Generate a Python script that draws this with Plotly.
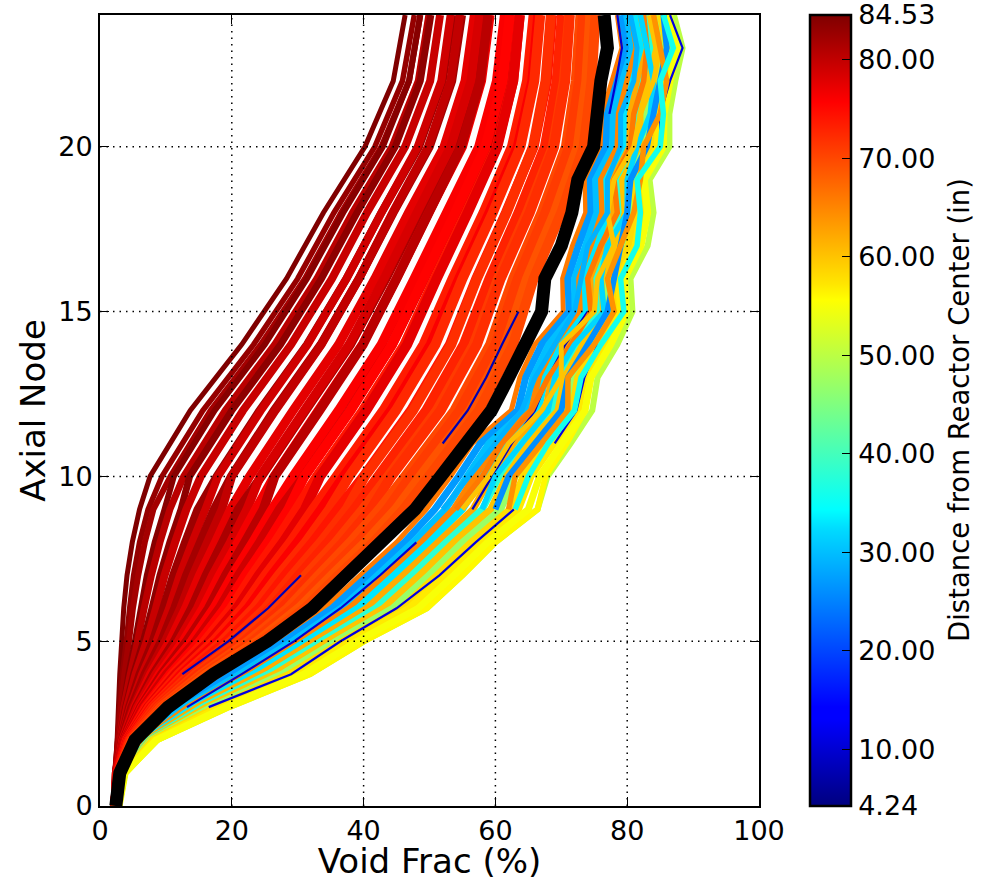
import plotly.graph_objects as go

FONT = "DejaVu Sans"
CMIN, CMAX = 4.24, 84.53
COLORBAR_TICKS = [4.24, 10, 20, 30, 40, 50, 60, 70, 80, 84.53]
COLORBAR_TEXT = ["4.24", "10.00", "20.00", "30.00", "40.00", "50.00", "60.00", "70.00", "80.00", "84.53"]
X_TICKS = [0, 20, 40, 60, 80, 100]
Y_TICKS = [0, 5, 10, 15, 20]
X_GRID = [20, 40, 60, 80]
Y_GRID = [5, 10, 15, 20]

NODES_COARSE = [0, 1, 2, 3, 4, 5, 6, 7, 8, 9, 10, 12, 14, 16, 18, 20, 22, 24]
NODES_FULL = list(range(25))

# Assemblies far from centre: void fraction at NODES_COARSE
core_edge_voids = [
    [2.2,2.3,2.6,2.8,3.0,3.3,3.6,4.1,4.9,6.0,7.6,13.7,21.5,28.3,33.9,40.2,44.5,46.3],
    [2.2,2.3,2.7,3.0,3.4,4.0,4.5,5.1,6.0,7.3,9.4,15.6,23.3,30.0,35.5,41.7,45.9,47.7],
    [2.2,2.3,2.7,3.2,3.7,4.4,5.0,5.8,6.8,8.1,10.7,16.8,24.4,31.1,36.6,42.7,46.9,48.6],
    [2.2,2.4,2.8,3.5,4.3,5.3,6.2,7.1,8.3,9.8,11.2,17.4,25.0,31.4,36.9,42.9,46.9,48.6],
    [2.2,2.4,2.9,3.6,4.6,5.7,6.7,7.8,9.1,10.6,12.7,19.0,26.5,32.9,38.3,44.3,48.3,49.9],
    [2.2,2.4,3.0,3.9,5.1,6.6,7.9,9.1,10.6,12.3,13.6,20.0,27.4,33.6,39.0,44.8,48.6,50.2],
    [2.2,2.4,3.1,4.1,5.4,7.1,8.5,9.8,11.4,13.1,15.3,21.7,29.0,35.2,40.5,46.3,50.1,51.6],
    [2.2,2.4,3.2,4.4,6.0,8.0,9.6,11.1,12.9,14.8,17.7,24.2,31.4,37.4,42.7,48.4,52.0,53.5],
    [2.3,2.5,3.2,4.6,6.4,8.6,10.5,12.1,14.0,16.0,17.9,24.4,31.5,37.4,42.7,48.2,51.8,53.2],
    [2.3,2.5,3.3,4.8,6.8,9.3,11.3,13.1,15.2,17.3,19.9,26.4,33.5,39.3,44.5,50.0,53.4,54.9],
    [2.3,2.5,3.4,5.1,7.3,9.9,12.2,14.1,16.3,18.5,20.0,26.6,33.6,39.3,44.4,49.8,53.2,54.6],
    [2.3,2.5,3.5,5.3,7.7,10.6,13.0,15.1,17.5,19.8,22.7,29.3,36.2,41.7,46.8,52.2,55.4,56.8],
    [2.3,2.6,3.6,5.5,8.1,11.3,13.9,16.1,18.6,21.0,24.5,31.2,38.0,43.4,48.5,53.7,56.8,58.2],
    [2.3,2.6,3.7,5.7,8.5,11.9,14.8,17.1,19.8,22.3,24.3,31.0,37.8,43.1,48.1,53.2,56.3,57.6],
    [2.3,2.6,3.7,6.0,9.0,12.6,15.6,18.1,20.9,23.6,26.4,33.1,39.8,45.0,49.9,55.0,57.9,59.2],
    [2.3,2.6,3.8,6.2,9.4,13.2,16.5,19.1,22.0,24.8,26.5,33.3,39.9,45.0,49.9,54.8,57.7,58.9],
    [2.3,2.6,3.9,6.4,9.8,13.9,17.3,20.1,23.2,26.1,29.3,36.2,42.7,47.7,52.6,57.5,60.2,61.4],
    [2.3,2.7,4.0,6.6,10.2,14.6,18.2,21.1,24.3,27.3,31.0,37.9,44.3,49.2,54.0,58.8,61.5,62.6],
    [2.3,2.7,4.1,6.9,10.7,15.2,19.0,22.1,25.5,28.6,31.0,38.0,44.3,49.1,53.9,58.5,61.1,62.2],
    [2.3,2.7,4.1,7.1,11.1,15.9,19.9,23.1,26.6,29.8,32.9,39.9,46.2,50.8,55.6,60.2,62.7,63.7],
    [2.3,2.7,4.2,7.3,11.5,16.6,20.8,24.1,27.8,31.1,33.4,40.4,46.6,51.1,55.8,60.3,62.7,63.7],
    [2.3,2.7,4.3,7.5,11.9,17.2,21.6,25.1,28.9,32.3,35.9,43.0,49.1,53.5,58.2,62.5,64.8,65.8],
    [2.3,2.8,4.4,7.8,12.4,17.9,22.5,26.1,30.0,33.6,37.0,44.2,50.2,54.5,59.1,63.4,65.6,66.5],
    [2.3,2.8,4.5,8.0,12.8,18.5,23.3,27.1,31.2,34.8,37.8,44.9,50.9,55.0,59.6,63.8,65.9,66.8],
    [2.3,2.8,4.5,8.2,13.2,19.2,24.2,28.1,32.3,36.1,40.0,47.2,53.1,57.1,61.6,65.8,67.8,68.6],
    [2.4,2.8,4.6,8.4,13.7,19.9,25.1,29.2,33.5,37.4,40.2,47.5,53.3,57.2,61.7,65.7,67.6,68.4],
    [2.4,2.8,4.7,8.7,14.1,20.5,25.9,30.2,34.6,38.6,42.2,49.5,55.2,59.1,63.5,67.5,69.3,70.1],
    [2.4,2.9,4.8,8.9,14.5,21.2,26.8,31.2,35.8,39.9,43.7,51.1,56.7,60.4,64.8,68.7,70.4,71.2],
    [2.4,2.9,4.9,9.1,14.9,21.9,27.6,32.2,36.9,41.1,44.2,51.7,57.2,60.8,65.2,68.9,70.6,71.3],
    [2.4,2.9,4.9,9.3,15.4,22.5,28.5,33.2,38.0,42.4,46.3,53.8,59.2,62.7,67.0,70.7,72.2,72.9],
    [2.4,2.9,5.0,9.6,15.8,23.2,29.3,34.2,39.2,43.6,47.1,54.6,60.0,63.4,67.6,71.2,72.7,73.3],
    [2.4,3.0,5.1,9.8,16.2,23.9,30.2,35.2,40.3,44.9,48.6,56.2,61.5,64.8,69.0,72.5,73.8,74.4],
    [2.4,3.0,5.2,10.0,16.6,24.5,31.1,36.2,41.5,46.1,49.9,57.5,62.7,65.8,70.0,73.4,74.6,75.2],
]
core_edge_dist = [84.5,83.0,82.0,84.0,80.5,83.5,79.5,82.5,79.0,82.0,80.0,77.5,81.5,78.5,76.5,80.5,76.0,
                  79.0,75.5,74.0,77.5,73.5,76.0,72.5,74.0,72.0,73.0,71.0,72.0,70.0,71.0,69.0,70.0]
core_edge_width = [5,5.5,6,6,7,7,8,8,8,8.5,8.5,9,9,9,9,9.5,9.5,
                   10,10,10,10,10,10,10,10,10,10,10,10,10,10,10,10]

# Assemblies closer to centre: void fraction at NODES_FULL
core_mid_voids = [
    [2.9,3.8,8.7,19.6,31.9,40.1,49.6,55.0,60.0,66.4,67.9,71.4,74.7,75.5,78.5,80.8,80.5,83.1,84.0,83.4,86.4,86.4,87.3,88.4,87.1],
    [2.9,3.8,8.7,19.6,31.9,40.1,49.6,55.0,60.0,66.4,67.6,70.8,73.6,74.5,77.0,79.5,79.0,81.5,82.5,82.0,85.0,85.0,85.5,86.5,85.5],
    [2.5,3.2,6.0,11.5,19.0,27.0,34.0,39.5,45.0,49.5,53.2,56.5,62.4,63.7,66.0,70.3,70.2,71.7,73.7,73.6,76.0,76.2,77.7,79.2,78.5],
    [2.5,3.2,6.2,12.2,20.0,28.0,35.2,40.7,46.2,50.8,54.4,57.7,63.4,64.6,67.0,71.2,71.0,72.6,74.5,74.4,76.8,77.0,78.5,79.9,79.2],
    [2.6,3.3,6.5,12.9,21.2,29.2,36.6,42.1,47.5,52.4,55.7,59.0,64.5,65.7,68.1,72.1,72.0,73.7,75.4,75.2,77.8,77.9,79.3,80.8,79.9],
    [2.6,3.4,6.7,13.5,22.2,30.3,37.9,43.4,48.8,53.7,56.9,60.2,65.5,66.7,69.2,72.9,72.8,74.6,76.3,76.1,78.6,78.8,80.1,81.5,80.7],
    [2.6,3.4,6.9,14.2,23.3,31.3,39.1,44.6,50.0,55.0,58.1,61.4,66.5,67.6,70.1,73.8,73.6,75.5,77.1,76.9,79.4,79.6,80.9,82.2,81.3],
    [2.7,3.5,7.1,14.9,24.4,32.5,40.5,46.0,51.3,56.6,59.4,62.8,67.6,68.6,71.2,74.7,74.5,76.5,78.0,77.8,80.4,80.5,81.7,83.1,82.1],
    [2.7,3.5,7.4,15.6,25.5,33.6,41.8,47.3,52.5,58.0,60.6,64.0,68.6,69.6,72.3,75.6,75.4,77.4,78.9,78.5,81.2,81.3,82.5,83.8,82.8],
    [2.7,3.6,7.6,16.2,26.5,34.6,43.0,48.5,53.7,59.3,61.7,65.1,69.5,70.5,73.3,76.4,76.2,78.3,79.7,79.3,82.0,82.1,83.3,84.5,83.5],
    [2.8,3.6,7.8,16.9,27.6,35.8,44.4,49.9,55.0,60.8,63.0,66.5,70.6,71.6,74.4,77.3,77.1,79.3,80.6,80.2,83.0,83.0,84.1,85.4,84.3],
    [2.8,3.7,8.0,17.6,28.7,36.8,45.7,51.1,56.3,62.2,64.2,67.7,71.6,72.5,75.4,78.2,77.9,80.2,81.4,81.0,83.8,83.9,84.9,86.1,85.0],
    [2.8,3.7,8.2,18.2,29.7,37.9,46.9,52.4,57.5,63.5,65.4,68.9,72.6,73.5,76.4,79.0,78.7,81.2,82.2,81.7,84.6,84.7,85.7,86.8,85.6],
    [2.9,3.8,8.5,19.0,30.9,39.0,48.3,53.7,58.8,65.0,66.7,70.1,73.6,74.5,77.5,79.9,79.6,82.1,83.1,82.6,85.5,85.6,86.5,87.6,86.3],
]
core_mid_dist = [50.0, 56.0, 66.0, 27.0, 30.0, 65.0, 33.0, 62.0, 38.0, 60.0, 47.0, 58.0, 57.0, 55.0]
core_mid_width = [6, 6, 5, 7, 7, 7, 7, 7, 7, 7, 7, 7, 7, 7]

# Short crossing curves in the upper part, nodes 9 to 24
NODES_UPPER = list(range(9, 25))
crossing_voids = [
    [54,58,61,65.5,68,71.5,74.5,74,76,78.5,78,80.5,81,82.5,83,82.5],
    [58,60,64,68,69,72,76.5,76,77,80,80,81.5,83.5,84,83,82],
    [55,59,62,67,70,70,75,75.5,78,77,78,81,82,84,85,84],
    [60,62,66,70,71,74,77,78,79,80,80.5,83,84,85,86,85.5],
    [62,63,67,71,71,75,78,77,79,81,82,82.5,85,86,85,84],
    [63,65,68,72,73,76,79.5,79,81.5,82,81.5,85,85.5,85,87,85.5],
    [52,56,60,64,66,69,72,73,74,77,77,79,79,81,81.5,80.5],
]
crossing_dist = [66.0, 32.0, 60.0, 26.0, 64.0, 36.0, 29.0]
crossing_width = [5.5, 5.5, 5, 6, 5.5, 5.5, 5]

# Thin dark-blue strands seen among the curves (gaps where they are hidden)
strand_left = [None,None,None,None,12.5,19.5,25.5,30.5,None,None,None,52.0,55.8,58.6,61.0,63.5,None,None,None,None,None,None,None,None,None]
strand_inner = [None,None,None,13.2,21.5,29.5,36.5,42.5,48.0,None,None,None,None,None,None,None,None,None,None,None,None,77.3,78.3,79.2,78.5]
strand_mid = [None,None,None,None,None,None,None,None,None,56.5,59.5,62.5,66.0,68.0,70.6,74.0,None,None,None,None,None,None,None,None,None]
strand_outer = [None,None,None,16.5,29.0,36.5,45.0,51.5,57.0,62.8,None,69.0,72.3,73.5,75.5,None,None,None,None,None,85.0,85.0,86.5,88.4,86.5]
strand_dist = [8.0, 10.0, 9.0, 11.0]

# Highlighted assembly
highlight_void = [2.4,3.0,5.3,10.3,17.2,25.4,32.2,37.5,43.0,47.8,51.7,55.5,59.4,62.0,64.5,67.0,67.5,70.0,71.6,72.5,74.9,75.3,76.0,77.0,76.5]

JET = [(0, (0, 0, 127)), (0.11, (0, 0, 255)), (0.125, (0, 0, 255)), (0.35, (0, 219, 255)),
       (0.375, (0, 255, 255)), (0.64, (255, 255, 0)), (0.66, (255, 230, 0)), (0.89, (255, 0, 0)),
       (0.91, (232, 0, 0)), (1, (127, 0, 0))]


def jet(value):
    t = (value - CMIN) / (CMAX - CMIN)
    t = max(0.0, min(1.0, t))
    for (a, ca), (b, cb) in zip(JET, JET[1:]):
        if t <= b:
            k = (t - a) / (b - a)
            c = [round(p + k * (q - p)) for p, q in zip(ca, cb)]
            return f"rgb({c[0]},{c[1]},{c[2]})"
    return "rgb(127,0,0)"


fig = go.Figure()


def curve(xs, nodes, dist, width):
    fig.add_trace(go.Scatter(x=xs, y=nodes, mode="lines", hoverinfo="skip", showlegend=False,
                             connectgaps=False, line=dict(color=jet(dist), width=width, simplify=False)))


for xs, d, w in zip(core_mid_voids, core_mid_dist, core_mid_width):
    curve(xs, NODES_FULL, d, w)
curve(strand_inner, NODES_FULL, strand_dist[1], 2.2)
curve(strand_mid, NODES_FULL, strand_dist[2], 2.2)
curve(strand_outer, NODES_FULL, strand_dist[3], 2.2)
for xs, d, w in zip(crossing_voids, crossing_dist, crossing_width):
    curve(xs, NODES_UPPER, d, w)
for xs, d, w in zip(core_edge_voids, core_edge_dist, core_edge_width):
    curve(xs, NODES_COARSE, d, w)
curve(strand_left, NODES_FULL, strand_dist[0], 2.2)
fig.add_trace(go.Scatter(x=highlight_void, y=NODES_FULL, mode="lines", hoverinfo="skip", showlegend=False,
                         line=dict(color="black", width=13)))

fig.add_trace(go.Scatter(
    x=[None], y=[None], mode="markers", hoverinfo="skip", showlegend=False,
    marker=dict(
        color=[CMIN], cmin=CMIN, cmax=CMAX, showscale=True,
        colorscale=[[a, f"rgb({c[0]},{c[1]},{c[2]})"] for a, c in JET],
        colorbar=dict(
            x=(810 - 100) / 659, xanchor="left", y=0, yanchor="bottom", len=1, lenmode="fraction",
            thickness=41, thicknessmode="pixels", xpad=0, ypad=0,
            outlinecolor="black", outlinewidth=2.5,
            tickmode="array", tickvals=COLORBAR_TICKS, ticktext=COLORBAR_TEXT,
            ticks="inside", ticklen=10, tickcolor="black", tickwidth=1,
            ticklabeloverflow="allow",
            tickfont=dict(family=FONT, size=27, color="black"),
        ),
    ),
))

axis_common = dict(
    showline=True, linecolor="black", linewidth=2, mirror="allticks",
    ticks="inside", ticklen=9, tickwidth=1, tickcolor="black",
    showgrid=False, zeroline=False,
    tickfont=dict(family=FONT, size=27, color="black"),
)
fig.update_layout(
    width=992, height=881, autosize=False,
    margin=dict(l=100, r=233, t=15, b=75, pad=0, autoexpand=False),
    paper_bgcolor="white", plot_bgcolor="white", showlegend=False,
    xaxis=dict(range=[0, 100], tickmode="array", tickvals=X_TICKS,
               title=dict(text="Void Frac (%)", font=dict(family=FONT, size=34, color="black"), standoff=3),
               **axis_common),
    yaxis=dict(range=[0, 24], tickmode="array", tickvals=Y_TICKS,
               title=dict(text="Axial Node", font=dict(family=FONT, size=34, color="black"), standoff=2),
               **axis_common),
)

grid_line = dict(color="black", width=1.5, dash="1.5px,5px")
for v in X_GRID:
    fig.add_shape(type="line", xref="x", yref="paper", x0=v, x1=v, y0=0, y1=1, layer="above", line=grid_line)
for v in Y_GRID:
    fig.add_shape(type="line", xref="paper", yref="y", x0=0, x1=1, y0=v, y1=v, layer="above", line=grid_line)

fig.add_annotation(
    text="Distance from Reactor Center (in)", textangle=-90, showarrow=False,
    xref="paper", yref="paper", x=(959 - 100) / 659, y=(806 - 410) / 791,
    xanchor="center", yanchor="middle",
    font=dict(family=FONT, size=27.5, color="black"),
)

# Remove the page's default body margin so the figure fills the window exactly.
fig.write_html("out.html", post_script="document.body.style.margin='0';",
               config={"displayModeBar": False})
